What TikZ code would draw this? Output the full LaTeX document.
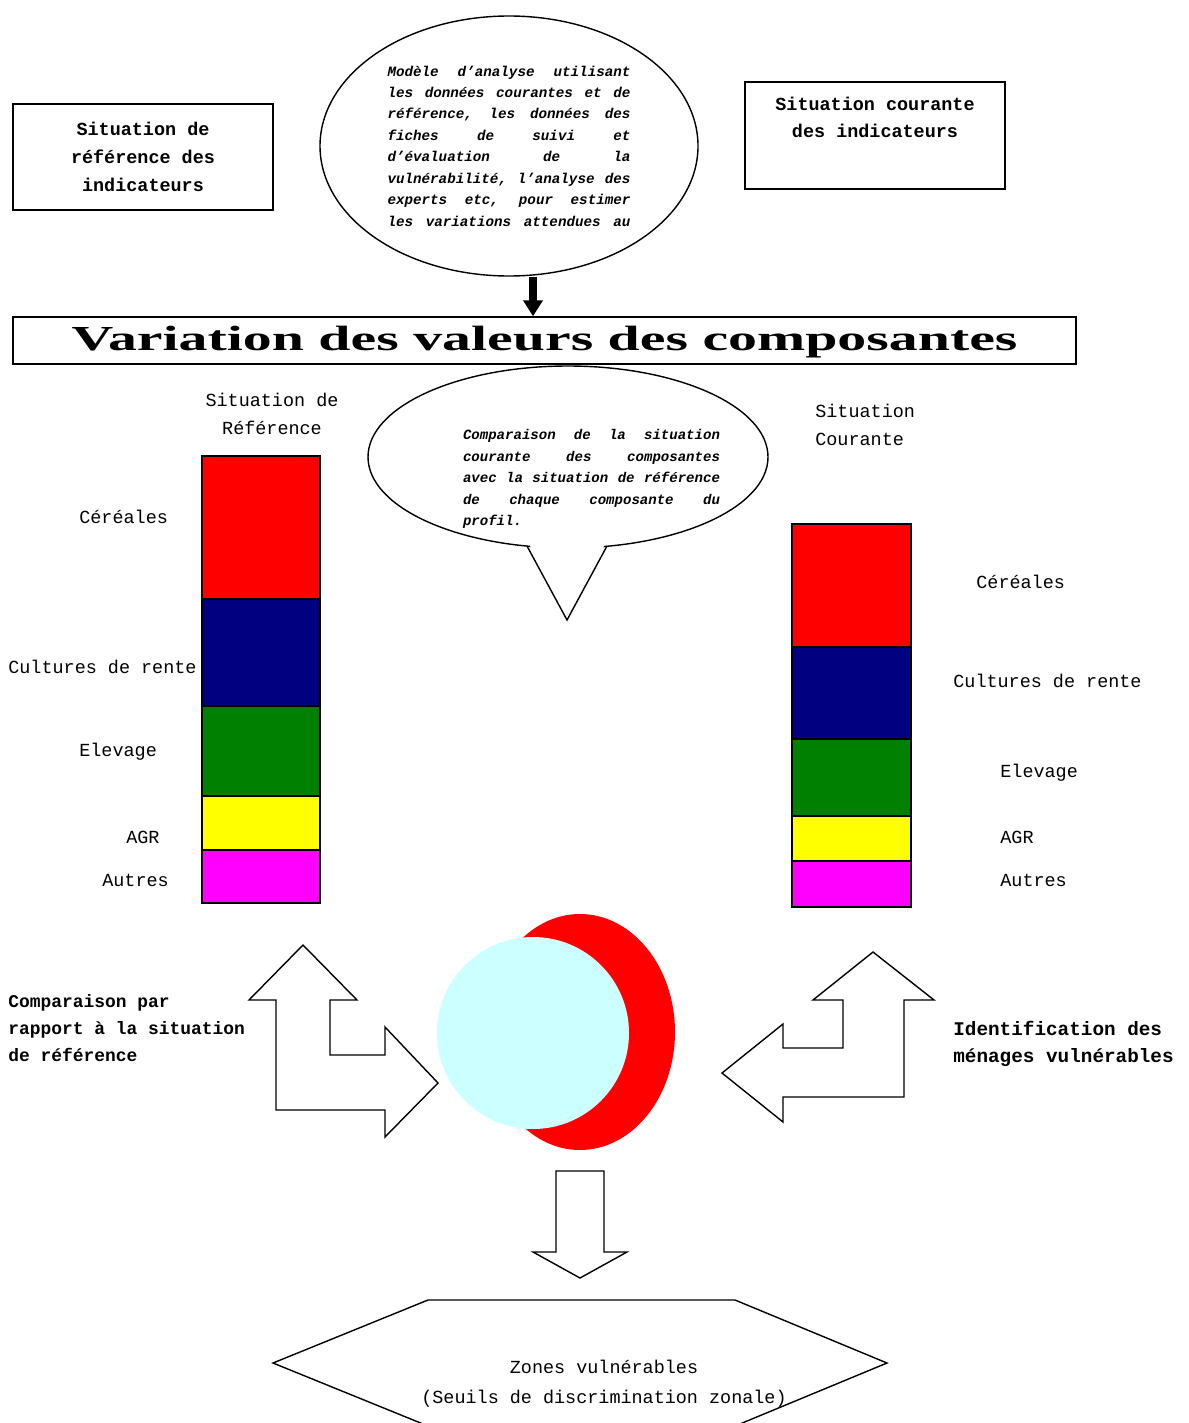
\documentclass[tikz,border=0pt]{standalone}
\usepackage{graphicx}
\usepackage{fontspec}
\setmainfont{Liberation Serif}
\setmonofont{Liberation Mono}
\usetikzlibrary{shapes.geometric,arrows.meta}
\pgfmathsetlengthmacro\px{0.02cm}
\newcommand\stretchspaces{\fontdimen3\font=6pt\relax}
\definecolor{navyblock}{RGB}{0,0,128}
\definecolor{greenblock}{RGB}{0,128,0}
\definecolor{yellowblock}{RGB}{255,255,0}
\definecolor{magentablock}{RGB}{255,0,255}
\definecolor{redblock}{RGB}{255,0,0}
\definecolor{cyanblock}{RGB}{204,255,255}
\tikzset{
  outline/.style = {draw = black, line width = 0.8pt},
  boxtext/.style = {font = \ttfamily\bfseries\fontsize{10.5}{15.9}\selectfont, align = center},
  barlabel/.style = {font = \ttfamily\fontsize{10.5}{15.9}\selectfont, inner sep = 0pt},
  sidelabel/.style = {font = \ttfamily\bfseries\fontsize{#1}{15.6}\selectfont, inner sep = 0pt, anchor = west, align = left},
  slanttext/.style = {font = \ttfamily\bfseries\itshape\fontsize{#1}{12.2}\selectfont, align = justify, inner sep = 0pt},
  blockarrow/.style = {draw = black, fill = white, line width = 0.8pt, line join = miter},
}
\begin{document}
\begin{tikzpicture}[x = 0.02cm, y = -0.02cm]
\clip (0,0) rectangle (1189,1423);
\node[outline, boxtext, minimum width = 260*\px, minimum height = 106*\px] (refbox) at (143,157) {Situation de\\référence des\\indicateurs};
\node[outline, boxtext, minimum width = 260*\px, minimum height = 107*\px] (curbox) at (875,135.5) {Situation courante\\des indicateurs\\\strut};
\node[ellipse, outline, minimum width = 378*\px, minimum height = 260*\px, slanttext = 8.1, text width = 243*\px] (model) at (509,146) {\stretchspaces Modèle d’analyse utilisant\linebreak les données courantes et de\linebreak référence, les données des\linebreak fiches de suivi et\linebreak d’évaluation de la\linebreak vulnérabilité, l’analyse des\linebreak experts etc, pour estimer\linebreak les variations attendues au\parfillskip=0pt\par};
\node[outline, minimum width = 1063*\px, inner sep = 0pt, text height = 0.66cm, text depth = 0.28cm] (variation) at (544.5,340.5) {\resizebox{18.92cm}{\height}{\fontsize{20}{24}\selectfont\bfseries Variation des valeurs des composantes}};
\draw[line width = 4.5pt, -{Triangle[width = 19*\px, length = 16*\px]}] ([xshift = 24*\px]model.south) -- ([xshift = 24*\px]model.south |- variation.north);
\node[ellipse, outline, fill = white, minimum width = 400*\px, minimum height = 182*\px] (bubble) at (568,457) {};
\coordinate (tailL) at (527,546);
\coordinate (tailtip) at (567,620);
\coordinate (tailR) at (607,546);
\fill[white] (529,544) -- (567,616) -- (605,544) -- cycle;
\draw[line width = 0.8pt, line join = miter] (tailL) -- (tailtip) -- (tailR);
\node[slanttext = 8, text width = 257*\px] (comptxt) at (591.5,479) {\stretchspaces Comparaison de la situation\linebreak courante des composantes\linebreak avec la situation de référence\linebreak de chaque composante du\linebreak profil.};
\foreach \ya/\yb/\col in {456/599/redblock, 599/706/navyblock, 706/796/greenblock, 796/850/yellowblock, 850/903/magentablock}
  \draw [fill = \col, outline] (202,\ya) rectangle (320,\yb);
\foreach \ya/\yb/\col in {524/647/redblock, 647/739/navyblock, 739/816/greenblock, 816/861/yellowblock, 861/907/magentablock}
  \draw [fill = \col, outline] (792,\ya) rectangle (911,\yb);
\node[barlabel, align = center] (refhead) at (272,414) {Situation de\\Référence};
\node[barlabel, align = left, anchor = west] (curhead) at (815,425) {Situation\\Courante};
\node[barlabel, anchor = west] (refcer) at (79,517) {Céréales};
\node[barlabel, anchor = west] (refcult) at (8,667) {Cultures de rente};
\node[barlabel, anchor = west] (refelev) at (79,752) {Elevage};
\node[barlabel, anchor = west] (refagr) at (126,837) {AGR};
\node[barlabel, anchor = west] (refaut) at (102,880) {Autres};
\node[barlabel, anchor = west] (curcer) at (976,582) {Céréales};
\node[barlabel, anchor = west] (curcult) at (953,681) {Cultures de rente};
\node[barlabel, anchor = west] (curelev) at (1000,773) {Elevage};
\node[barlabel, anchor = west] (curagr) at (1000,837) {AGR};
\node[barlabel, anchor = west] (curaut) at (1000,880) {Autres};
\fill[redblock] (580,1032) ellipse [x radius = 95*\px, y radius = 118*\px];
\fill[cyanblock] (533,1033) circle [radius = 96*\px];
\draw[blockarrow] (303,945) -- (357,1000) -- (330,1000) -- (330,1055) -- (385,1055) -- (385,1027) -- (438,1083) -- (385,1137) -- (385,1110) -- (276,1110) -- (276,1000) -- (249,1000) -- cycle;
\draw[blockarrow] (873,952) -- (934,1000) -- (904,1000) -- (904,1097) -- (783,1097) -- (783,1122) -- (722,1073) -- (783,1024) -- (783,1048) -- (843,1048) -- (843,1000) -- (813,1000) -- cycle;
\node[sidelabel = 10.2] (cmplbl) at (8,1028) {Comparaison par\\rapport à la situation\\de référence};
\node[sidelabel = 11] (identlbl) at (953,1044) {Identification des\\ménages vulnérables};
\draw[blockarrow] (556,1171) -- (604,1171) -- (604,1252) -- (627,1252) -- (580,1278) -- (533,1252) -- (556,1252) -- cycle;
\draw[outline] (273,1363) -- (428,1300) -- (735,1300) -- (887,1363) -- (735,1426) -- (428,1426) -- cycle;
\node[barlabel, align = center, font = \ttfamily\fontsize{10.5}{17}\selectfont] (zones) at (604,1384) {Zones vulnérables\\(Seuils de discrimination zonale)};
\end{tikzpicture}
\end{document}
